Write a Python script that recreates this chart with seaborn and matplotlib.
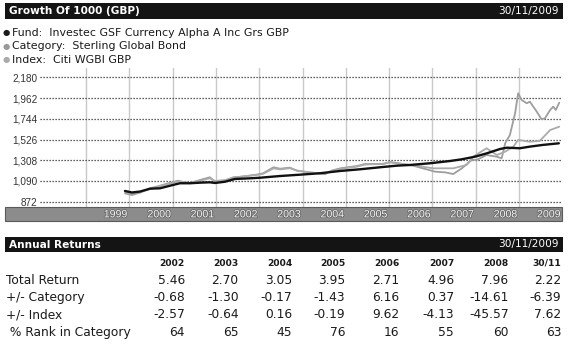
import matplotlib
matplotlib.use("Agg")
import matplotlib.pyplot as plt
import matplotlib.patheffects as pe
from matplotlib.patches import Rectangle
import seaborn as sns
import pandas as pd

# ---- growth of 1000 series (decimal year, value) ----
fund_t = [1999.90, 2000.06, 2000.25, 2000.48, 2000.71, 2000.94, 2001.17, 2001.40, 2001.63,
          2001.86, 2001.98, 2002.21, 2002.44, 2002.79, 2003.02, 2003.48, 2003.94, 2004.40,
          2004.87, 2005.33, 2005.79, 2006.18, 2006.48, 2006.94, 2007.41, 2007.68, 2007.98,
          2008.26, 2008.56, 2008.72, 2009.02, 2009.25, 2009.55, 2009.92]
fund_v = [985, 969, 979, 1009, 1013, 1040, 1066, 1066, 1072, 1076, 1069, 1082, 1111, 1118,
          1124, 1142, 1156, 1171, 1195, 1213, 1234, 1251, 1258, 1276, 1300, 1318, 1345, 1381,
          1426, 1440, 1434, 1451, 1469, 1486]

cat_t = [1999.90, 2000.06, 2000.25, 2000.48, 2000.71, 2000.90, 2001.13, 2001.40, 2001.63,
         2001.86, 2001.98, 2002.21, 2002.40, 2002.63, 2002.98, 2003.09, 2003.33, 2003.48,
         2003.71, 2003.87, 2004.17, 2004.52, 2004.67, 2004.87, 2005.25, 2005.44, 2005.87,
         2006.02, 2006.56, 2007.02, 2007.48, 2007.79, 2007.94, 2008.25, 2008.49, 2008.68,
         2008.87, 2008.98, 2009.25, 2009.48, 2009.72, 2009.83, 2009.93]
cat_v = [975, 955, 975, 1005, 1035, 1058, 1085, 1072, 1092, 1118, 1090, 1100, 1122, 1140,
         1155, 1165, 1222, 1212, 1224, 1200, 1178, 1168, 1195, 1215, 1240, 1262, 1272, 1285,
         1255, 1223, 1223, 1258, 1345, 1434, 1363, 1398, 1451, 1521, 1503, 1511, 1626, 1644,
         1661]

index_t = [1999.90, 2000.06, 2000.25, 2000.48, 2000.71, 2000.90, 2001.13, 2001.21, 2001.40,
           2001.63, 2001.86, 2001.98, 2002.21, 2002.40, 2002.63, 2002.98, 2003.09, 2003.33,
           2003.48, 2003.71, 2003.87, 2004.17, 2004.52, 2004.67, 2004.87, 2005.25, 2005.44,
           2005.87, 2006.02, 2006.56, 2007.06, 2007.30, 2007.48, 2007.68, 2007.91, 2008.02,
           2008.25, 2008.49, 2008.60, 2008.68, 2008.79, 2008.91, 2008.98, 2009.06, 2009.18,
           2009.25, 2009.41, 2009.52, 2009.60, 2009.72, 2009.79, 2009.85, 2009.93]
index_v = [960, 942, 967, 1013, 1040, 1066, 1093, 1082, 1066, 1100, 1129, 1082, 1093, 1129,
           1135, 1160, 1171, 1234, 1219, 1230, 1198, 1181, 1160, 1198, 1223, 1247, 1268, 1268,
           1290, 1250, 1188, 1180, 1163, 1223, 1311, 1311, 1363, 1345, 1328, 1486, 1574, 1802,
           2012, 1942, 1907, 1924, 1819, 1739, 1749, 1837, 1871, 1837, 1914]

y_ticks = [872, 1090, 1308, 1526, 1744, 1962, 2180]
y_tick_labels = ["872", "1,090", "1,308", "1,526", "1,744", "1,962", "2,180"]
axis_years = [1999, 2000, 2001, 2002, 2003, 2004, 2005, 2006, 2007, 2008, 2009]

legend_names = ["Fund:", "Category:", "Index:"]
legend_values = ["Investec GSF Currency Alpha A Inc Grs GBP", "Sterling Global Bond", "Citi WGBI GBP"]

# ---- annual returns table ----
table_cols = ["2002", "2003", "2004", "2005", "2006", "2007", "2008", "30/11"]
total_return = ["5.46", "2.70", "3.05", "3.95", "2.71", "4.96", "7.96", "2.22"]
vs_category = ["-0.68", "-1.30", "-0.17", "-1.43", "6.16", "0.37", "-14.61", "-6.39"]
vs_index = ["-2.57", "-0.64", "0.16", "-0.19", "9.62", "-4.13", "-45.57", "7.62"]
rank_in_cat = ["64", "65", "45", "76", "16", "55", "60", "63"]
row_labels = ["Total Return", "+/- Category", "+/- Index", " % Rank in Category"]

# ---- styling ----
sns.set_theme(style="white")
plt.rcParams["font.family"] = ["DejaVu Sans"]
narrow = ["Liberation Sans Narrow", "Liberation Sans", "DejaVu Sans"]

W, H = 570, 346
fig = plt.figure(figsize=(W / 100, H / 100), dpi=100)
fig.patch.set_facecolor("white")


def fx(px):
    return px / W


def fy(py):
    return 1 - py / H


# header bars
for top, bot, title in [(3, 19, "Growth Of 1000 (GBP)"), (237, 252, "Annual Returns")]:
    fig.patches.append(Rectangle((fx(5), fy(bot)), fx(563) - fx(5), fy(top) - fy(bot),
                                 transform=fig.transFigure, facecolor="#141414",
                                 edgecolor="none", zorder=0))
    yc = fy((top + bot) / 2)
    fig.text(fx(9), yc, title, color="white", fontsize=7.6, fontweight="bold",
             va="center", ha="left")
    fig.text(fx(559), yc, "30/11/2009", color="white", fontsize=7.6,
             va="center", ha="right")

# legend rows
dot_colors = ["#1a1a1a", "#9a9a9a", "#ababab"]
for i, (nm, val, c) in enumerate(zip(legend_names, legend_values, dot_colors)):
    yy = fy(33 + i * 13.3)
    fig.text(fx(6.5), yy, "\u25cf", color=c, fontsize=6, va="center", ha="center")
    fig.text(fx(12), yy, f"{nm}  {val}", color="#1a1a1a", fontsize=7.95,
             va="center", ha="left")

# main chart axes
ax_left, ax_right, ax_top, ax_bot = 40, 561, 68, 207
ax = fig.add_axes([fx(ax_left), fy(ax_bot), fx(ax_right) - fx(ax_left), fy(ax_top) - fy(ax_bot)])
px_per_year = 43.3
ax.set_xlim(1999 - (86 - ax_left) / px_per_year, 1999 + (ax_right - 86) / px_per_year)
units_per_px = 218 / 20.73
ax.set_ylim(872 - (ax_bot - 201.7) * units_per_px, 2180 + (77.3 - ax_top) * units_per_px)
for s in ax.spines.values():
    s.set_visible(False)
ax.set_facecolor("white")

for yr in axis_years:
    ax.axvline(yr, color="#c9c9c9", lw=1.0, zorder=1)
for yv in y_ticks:
    ax.axhline(yv, color="#2a2a2a", lw=0.9, ls=(0, (1, 1.4)), zorder=1)

df = pd.concat([
    pd.DataFrame({"t": index_t, "v": index_v, "s": "Index"}),
    pd.DataFrame({"t": cat_t, "v": cat_v, "s": "Category"}),
    pd.DataFrame({"t": fund_t, "v": fund_v, "s": "Fund"}),
], ignore_index=True)
sns.lineplot(data=df[df.s == "Index"], x="t", y="v", color="#9e9e9e", lw=1.3,
             estimator=None, ax=ax, zorder=3)
sns.lineplot(data=df[df.s == "Category"], x="t", y="v", color="#ababab", lw=1.3,
             estimator=None, ax=ax, zorder=4)
sns.lineplot(data=df[df.s == "Fund"], x="t", y="v", color="#111111", lw=1.7,
             estimator=None, ax=ax, zorder=5)

ax.set_xticks([])
ax.set_yticks(y_ticks)
ax.set_yticklabels(y_tick_labels, family=narrow, fontsize=7.2, color="#333333")
ax.tick_params(axis="y", length=0, pad=2)
ax.set_xlabel("")
ax.set_ylabel("")

# year band below the chart
fig.patches.append(Rectangle((fx(5), fy(221)), fx(562) - fx(5), fy(207) - fy(221),
                             transform=fig.transFigure, facecolor="#8c8c8c",
                             edgecolor="#5a5a5a", lw=0.8, zorder=0))
for yr in axis_years:
    xr = 86 + (yr + 1 - 1999) * px_per_year - 2
    fig.text(fx(xr), fy(214.3), str(yr), family=narrow, fontsize=7.6, color="#f2f2f2",
             ha="right", va="center",
             path_effects=[pe.withStroke(linewidth=1.2, foreground="#6a6a6a")])

# annual returns table
col_right = [185, 238.5, 292, 345.5, 399.5, 454, 508.5, 561.5]
for x, c in zip(col_right, table_cols):
    fig.text(fx(x), fy(263.5), c, fontsize=6.6, fontweight="bold", color="#1a1a1a",
             ha="right", va="center")
rows = [total_return, vs_category, vs_index, rank_in_cat]
row_y = [280, 297.5, 315, 332.3]
for lab, vals, yy in zip(row_labels, rows, row_y):
    fig.text(fx(6), fy(yy), lab, fontsize=8.8, color="#1a1a1a", ha="left", va="center")
    for x, v in zip(col_right, vals):
        fig.text(fx(x), fy(yy), v, fontsize=8.8, color="#1a1a1a", ha="right", va="center")

fig.savefig("out.png", dpi=100, facecolor="white")
